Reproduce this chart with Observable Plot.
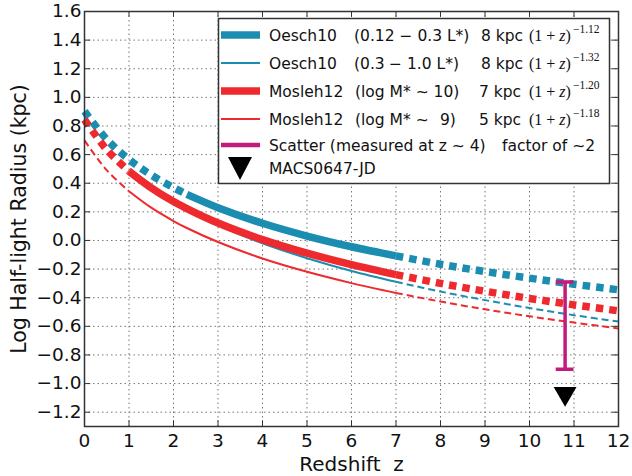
<!DOCTYPE html>
<html>
<head>
<meta charset="utf-8">
<script src="https://cdn.jsdelivr.net/npm/d3@7"></script>
<script src="https://cdn.jsdelivr.net/npm/@observablehq/plot@0.6"></script>
<style>
  body { margin: 0; background: white; }
  #wrap { position: relative; width: 632px; height: 476px; }
  #legend { position: absolute; left: 0; top: 0; pointer-events: none; }
</style>
</head>
<body>
<div id="wrap"></div>
<script>
// ---- data ----
const zGrid = [0, 0.5, 1, 1.5, 2, 2.3, 3, 4, 5, 6, 7, 8, 9, 10, 11, 12];
const oeschFaint  = [0.903, 0.706, 0.566, 0.457, 0.369, 0.322, 0.229, 0.120, 0.031, -0.044, -0.108, -0.166, -0.217, -0.263, -0.306, -0.345];
const oeschBright = [null, null, null, null, null, 0.219, 0.108, -0.020, -0.124, -0.213, -0.289, -0.357, -0.417, -0.472, -0.522, -0.567];
const moslehHigh  = [0.845, 0.634, 0.484, 0.368, 0.272, 0.223, 0.122, 0.006, -0.089, -0.169, -0.239, -0.300, -0.355, -0.405, -0.450, -0.492];
const moslehLow   = [0.699, 0.491, 0.344, 0.229, 0.136, 0.087, -0.011, -0.126, -0.219, -0.298, -0.367, -0.427, -0.481, -0.530, -0.574, -0.615];
// solid (measured) ranges in z
const oeschFaintRange  = [2.3, 7];
const oeschBrightRange = [2.3, 7];
const moslehHighRange  = [1, 7];
const moslehLowRange   = [1, 7];
// scatter bar and MACS0647-JD
const scatterZ = 10.8, scatterTop = -0.29, scatterBottom = -0.90;
const macsZ = 10.8, macsY = -1.07;
const xTicks = [0,1,2,3,4,5,6,7,8,9,10,11,12];
const yTicks = [-1.2,-1.0,-0.8,-0.6,-0.4,-0.2,0.0,0.2,0.4,0.6,0.8,1.0,1.2,1.4,1.6];

const BLUE = "#1b8db0", RED = "#ee2a2e", MAG = "#c21a7d";

function rows(ys) {
  return zGrid.map((z, i) => ({z, y: ys[i]})).filter(d => d.y != null);
}
function seriesMarks(ys, range, color, width, dash) {
  const r = rows(ys);
  const before = r.filter(d => d.z <= range[0]);
  const mid = r.filter(d => d.z >= range[0] && d.z <= range[1]);
  const after = r.filter(d => d.z >= range[1]);
  const common = {x: "z", y: "y", stroke: color, strokeWidth: width, curve: "catmull-rom", strokeLinecap: "butt"};
  const out = [];
  if (before.length > 1) out.push(Plot.line(before, {...common, strokeDasharray: dash}));
  out.push(Plot.line(mid, common));
  out.push(Plot.line(after, {...common, strokeDasharray: dash}));
  return out;
}

const fmt = d3.format(".1f");
const chart = Plot.plot({
  width: 632, height: 476,
  marginLeft: 84, marginRight: 14, marginTop: 11, marginBottom: 50,
  style: {fontFamily: "DejaVu Sans", fontSize: "18.5px", color: "#111", background: "white"},
  x: {domain: [0, 12]},
  y: {domain: [-1.3, 1.6]},
  marks: [
    Plot.gridX(xTicks, {stroke: "#777", strokeOpacity: 1, strokeDasharray: "1.5,3"}),
    Plot.gridY(yTicks, {stroke: "#777", strokeOpacity: 1, strokeDasharray: "1.5,3"}),
    ...seriesMarks(oeschFaint, oeschFaintRange, BLUE, 7.5, "7.5,6"),
    ...seriesMarks(oeschBright, oeschBrightRange, BLUE, 2, "7,4"),
    ...seriesMarks(moslehHigh, moslehHighRange, RED, 7.5, "7.5,6"),
    ...seriesMarks(moslehLow, moslehLowRange, RED, 2, "7,4"),
    Plot.ruleX([scatterZ], {y1: scatterTop, y2: scatterBottom, stroke: MAG, strokeWidth: 3.5}),
    Plot.ruleY([scatterTop, scatterBottom], {x1: scatterZ - 0.2, x2: scatterZ + 0.2, stroke: MAG, strokeWidth: 3.5}),
    Plot.dot([{x: macsZ, y: macsY}], {x: "x", y: "y", symbol: "triangle", rotate: 180, r: 8.5, fill: "black", stroke: "none"}),
    // inward ticks on all four sides
    Plot.ruleX(xTicks, {y1: -1.3, y2: -1.26, stroke: "#333"}),
    Plot.ruleX(xTicks, {y1: 1.6, y2: 1.56, stroke: "#333"}),
    Plot.ruleY(yTicks, {x1: 0, x2: 0.14, stroke: "#333"}),
    Plot.ruleY(yTicks, {x1: 12, x2: 11.86, stroke: "#333"}),
    Plot.frame({stroke: "#333", strokeWidth: 1.5}),
    Plot.axisX(xTicks, {tickSize: 0, tickPadding: 7, fontSize: 18.5, label: null, tickFormat: d3.format("d")}),
    Plot.axisY(yTicks, {tickSize: 0, tickPadding: 3, fontSize: 18.5, label: null, tickFormat: fmt}),
    Plot.text(["Redshift  z"], {frameAnchor: "bottom", dy: 44, fontSize: 20, fill: "#111"}),
    Plot.text(["Log Half-light Radius (kpc)"], {frameAnchor: "left", textAnchor: "middle", dx: -65, rotate: -90, fontSize: 20.5, fill: "#111"})
  ]
});
document.getElementById("wrap").appendChild(chart);

// ---- legend overlay ----
const L = [
  {color: BLUE, w: 7.5, y: 35, parts: [["Oesch10", 269], ["(0.12 − 0.3 L*)", 354], ["8 kpc", 481]], exp: "−1.12"},
  {color: BLUE, w: 2, y: 63, parts: [["Oesch10", 269], ["(0.3", 354], ["− 1.0 L*)", 389], ["8 kpc", 481]], exp: "−1.32"},
  {color: RED, w: 7.5, y: 91, parts: [["Mosleh12", 269], ["(log M* ∼ 10)", 355], ["7 kpc", 479]], exp: "−1.20"},
  {color: RED, w: 2, y: 119, parts: [["Mosleh12", 269], ["(log M* ∼", 355], ["9)", 440], ["5 kpc", 479]], exp: "−1.18"},
  {color: MAG, w: 4.5, y: 145, parts: [["Scatter (measured at z ∼ 4)", 269], ["factor of ∼2", 502]]},
  {tri: true, y: 168, parts: [["MACS0647-JD", 269]]}
];
const svg = d3.select("#wrap").append("svg").attr("id", "legend").attr("width", 632).attr("height", 476);
svg.append("rect").attr("x", 218.5).attr("y", 18.5).attr("width", 391).attr("height", 165)
  .attr("fill", "white").attr("stroke", "#333").attr("stroke-width", 1.5);
for (const e of L) {
  if (e.tri) {
    svg.append("path").attr("d", `M228,${e.y - 11}L252,${e.y - 11}L240,${e.y + 12}Z`).attr("fill", "black");
  } else {
    svg.append("line").attr("x1", 221).attr("x2", 260).attr("y1", e.y).attr("y2", e.y)
      .attr("stroke", e.color).attr("stroke-width", e.w);
  }
  for (const [t, x] of e.parts) {
    svg.append("text").attr("x", x).attr("y", e.y + 5.5).attr("font-family", "DejaVu Sans")
      .attr("font-size", 15.5).attr("fill", "#111").text(t);
  }
  if (e.exp) {
    const t = svg.append("text").attr("x", 529).attr("y", e.y + 5.5).attr("font-family", "Liberation Serif")
      .attr("font-size", 16).attr("fill", "#111").attr("xml:space", "preserve");
    t.append("tspan").text("(1 + ");
    t.append("tspan").attr("font-style", "italic").text("z");
    t.append("tspan").text(")");
    svg.append("text").attr("x", 573).attr("y", e.y - 2.5).attr("font-family", "Liberation Serif")
      .attr("font-size", 11.5).attr("fill", "#111").text(e.exp);
  }
}
</script>
</body>
</html>
